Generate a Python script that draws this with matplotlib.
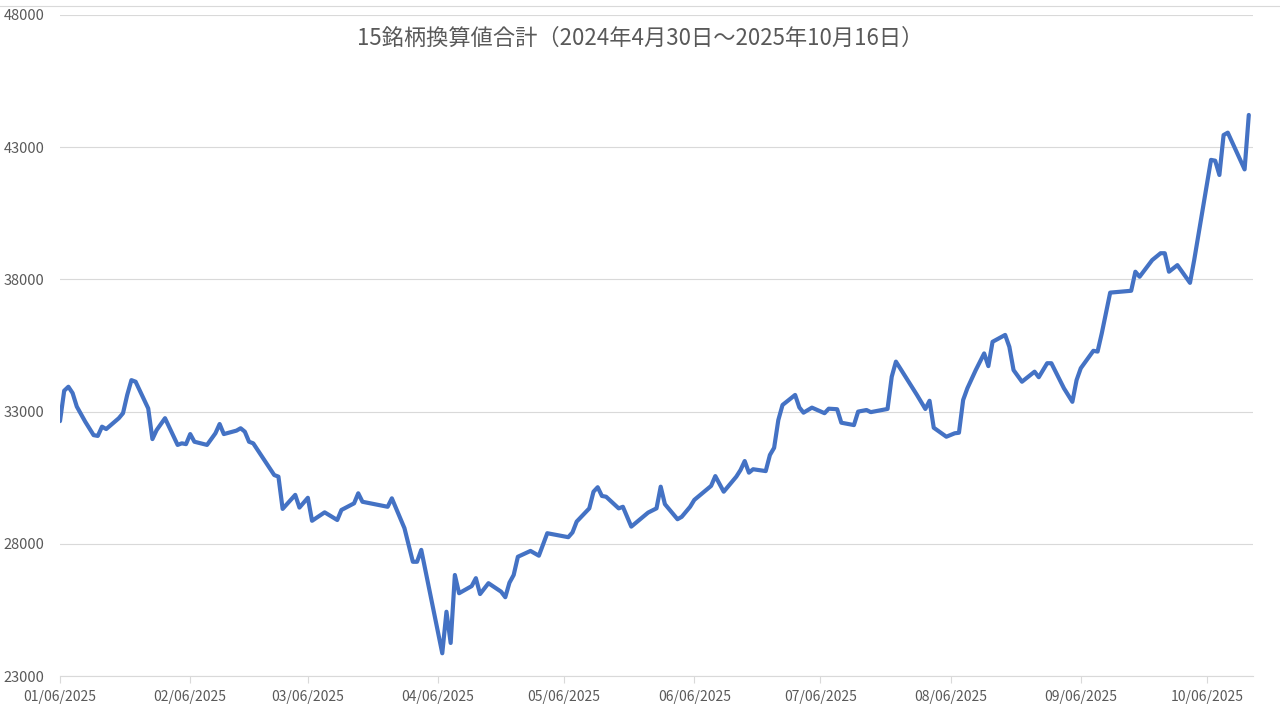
import matplotlib
matplotlib.use("Agg")
import matplotlib.pyplot as plt
import matplotlib.dates as mdates
from matplotlib.lines import Line2D
import pandas as pd

# readings (trading-day vertices)
dates = [
    "2025-01-06", "2025-01-07", "2025-01-08", "2025-01-09", "2025-01-10", "2025-01-12",
    "2025-01-14", "2025-01-15", "2025-01-16", "2025-01-17", "2025-01-20", "2025-01-21",
    "2025-01-22", "2025-01-23", "2025-01-24", "2025-01-27", "2025-01-28", "2025-01-29",
    "2025-01-31", "2025-02-03", "2025-02-04", "2025-02-05", "2025-02-06", "2025-02-07",
    "2025-02-10", "2025-02-12", "2025-02-13", "2025-02-14", "2025-02-17", "2025-02-18",
    "2025-02-19", "2025-02-20", "2025-02-21", "2025-02-26", "2025-02-27", "2025-02-28",
    "2025-03-03", "2025-03-04", "2025-03-06", "2025-03-07", "2025-03-10", "2025-03-13",
    "2025-03-14", "2025-03-17", "2025-03-18", "2025-03-19", "2025-03-25", "2025-03-26",
    "2025-03-29", "2025-03-31", "2025-04-01", "2025-04-02", "2025-04-07", "2025-04-08",
    "2025-04-09", "2025-04-10", "2025-04-11", "2025-04-14", "2025-04-15", "2025-04-16",
    "2025-04-18", "2025-04-21", "2025-04-22", "2025-04-23", "2025-04-24", "2025-04-25",
    "2025-04-28", "2025-04-30", "2025-05-02", "2025-05-07", "2025-05-08", "2025-05-09",
    "2025-05-12", "2025-05-13", "2025-05-14", "2025-05-15", "2025-05-16", "2025-05-19",
    "2025-05-20", "2025-05-22", "2025-05-26", "2025-05-28", "2025-05-29", "2025-05-30",
    "2025-06-02", "2025-06-03", "2025-06-05", "2025-06-06", "2025-06-09", "2025-06-10",
    "2025-06-11", "2025-06-13", "2025-06-16", "2025-06-17", "2025-06-18", "2025-06-19",
    "2025-06-20", "2025-06-23", "2025-06-24", "2025-06-25", "2025-06-26", "2025-06-27",
    "2025-06-30", "2025-07-01", "2025-07-02", "2025-07-04", "2025-07-07", "2025-07-08",
    "2025-07-10", "2025-07-11", "2025-07-14", "2025-07-15", "2025-07-17", "2025-07-18",
    "2025-07-22", "2025-07-23", "2025-07-24", "2025-07-25", "2025-07-29", "2025-07-31",
    "2025-08-01", "2025-08-02", "2025-08-05", "2025-08-07", "2025-08-08", "2025-08-09",
    "2025-08-10", "2025-08-12", "2025-08-14", "2025-08-15", "2025-08-16", "2025-08-19",
    "2025-08-20", "2025-08-21", "2025-08-23", "2025-08-26", "2025-08-27", "2025-08-29",
    "2025-08-30", "2025-09-02", "2025-09-04", "2025-09-05", "2025-09-06", "2025-09-09",
    "2025-09-10", "2025-09-11", "2025-09-13", "2025-09-18", "2025-09-19", "2025-09-20",
    "2025-09-23", "2025-09-25", "2025-09-26", "2025-09-27", "2025-09-29", "2025-10-02",
    "2025-10-03", "2025-10-07", "2025-10-08", "2025-10-09", "2025-10-10", "2025-10-11",
    "2025-10-15", "2025-10-16",
]
values = [
    32640, 33790, 33940, 33700, 33190, 32620,
    32110, 32080, 32430, 32340, 32750, 32940,
    33630, 34190, 34130, 33120, 31960, 32300,
    32750, 31740, 31800, 31770, 32150, 31860,
    31740, 32180, 32530, 32150, 32280, 32370,
    32240, 31860, 31800, 30600, 30540, 29320,
    29850, 29370, 29740, 28870, 29190, 28900,
    29280, 29530, 29910, 29590, 29400, 29720,
    28590, 27320, 27320, 27770, 23860, 25430,
    24250, 26820, 26130, 26400, 26700, 26100,
    26510, 26190, 25980, 26530, 26820, 27510,
    27730, 27550, 28400, 28250, 28430, 28840,
    29340, 29970, 30140, 29810, 29780, 29340,
    29400, 28650, 29180, 29340, 30160, 29500,
    28930, 29020, 29400, 29660, 30060, 30190,
    30560, 29970, 30540, 30790, 31130, 30690,
    30820, 30750, 31360, 31630, 32680, 33250,
    33630, 33160, 32960, 33150, 32940, 33110,
    33090, 32580, 32490, 33000, 33060, 32980,
    33100, 34320, 34890, 34640, 33630, 33100,
    33410, 32390, 32050, 32180, 32200, 33440,
    33880, 34570, 35200, 34720, 35640, 35900,
    35450, 34570, 34130, 34510, 34300, 34830,
    34830, 33880, 33370, 34190, 34640, 35300,
    35270, 35960, 37500, 37570, 38290, 38100,
    38730, 38990, 38990, 38290, 38540, 37870,
    38730, 42520, 42490, 41950, 43460, 43550,
    42160, 44220,
]
title = "15銘柄換算値合計（2024年4月30日～2025年10月16日）"
y_ticks = [23000, 28000, 33000, 38000, 43000, 48000]
x_ticks = pd.date_range("2025-01-01", "2025-10-01", freq="MS") + pd.Timedelta(days=5)

plt.rcParams['font.family'] = ['Noto Sans CJK JP', 'DejaVu Sans']

x = pd.to_datetime(dates)

fig = plt.figure(figsize=(12.8, 7.2), dpi=100)
ax = fig.add_axes([60 / 1280, 44 / 720, (1253 - 60) / 1280, (676 - 15) / 720])

ax.plot(x, values, color="#4472C4", lw=3.0, solid_joinstyle="round", solid_capstyle="round")

ax.set_ylim(23000, 48000)
ax.set_yticks(y_ticks)
ax.set_xlim(pd.Timestamp("2025-01-06"), pd.Timestamp("2025-10-17"))
ax.set_xticks(x_ticks)
ax.xaxis.set_major_formatter(mdates.DateFormatter("%m/%d/%Y"))

ax.grid(axis="y", color="#D9D9D9", lw=0.8)
ax.set_axisbelow(True)
for s in ["top", "right", "left"]:
    ax.spines[s].set_visible(False)
ax.spines["bottom"].set_color("#D9D9D9")
ax.spines["bottom"].set_linewidth(0.8)

ax.tick_params(axis="y", length=0, pad=11, labelsize=10.5, labelcolor="#595959")
ax.tick_params(axis="x", length=5, width=0.8, color="#D9D9D9", pad=5,
               labelsize=10, labelcolor="#595959")

fig.text(0.5, 1 - 38 / 720, title, ha="center", va="center", fontsize=16, color="#595959")

# chart frame top edge
fig.add_artist(Line2D([0, 1], [1 - 6 / 720] * 2, color="#D9D9D9", lw=0.8))

fig.savefig("out.png", dpi=100)
